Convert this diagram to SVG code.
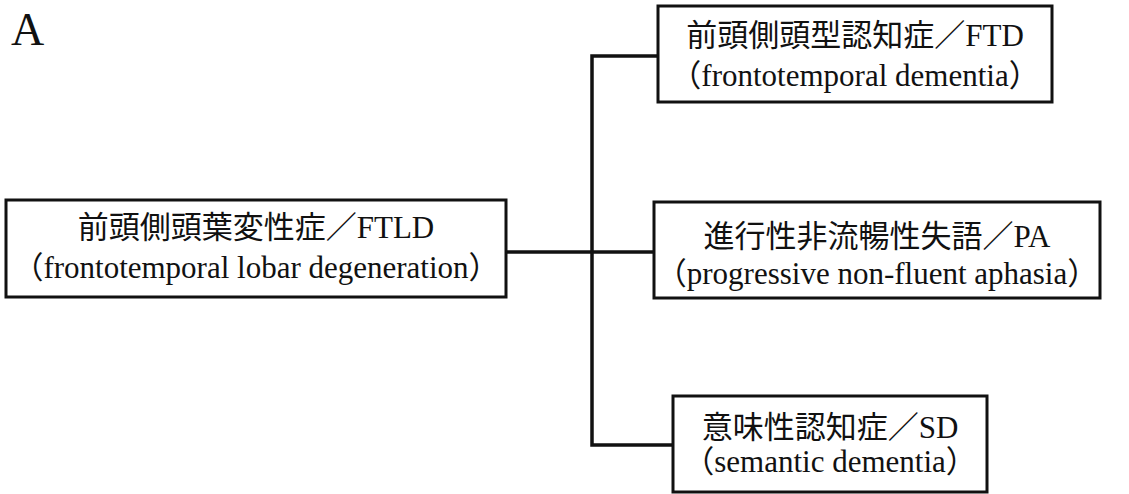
<svg xmlns="http://www.w3.org/2000/svg" width="1129" height="494" viewBox="0 0 1129 494">
<style>
.box{fill:#fff;stroke:#111;stroke-width:3}
.con{fill:none;stroke:#111;stroke-width:3.5}
text{fill:#111;text-anchor:middle;font-size:31px}
.j{font-family:"Noto Sans CJK JP",sans-serif}
.s{font-family:"Liberation Serif",serif}
.lab{font-family:"Liberation Serif",serif;font-size:46px;text-anchor:start}
</style>
<rect width="1129" height="494" fill="#fff"/>
<text class="lab" x="11" y="45">A</text>
<g id="connectors">
<path class="con" d="M506,252 H654"/>
<path class="con" d="M658,56 H592 V445 H673"/>
</g>
<g id="ftld">
<rect class="box" x="6" y="200" width="500" height="97"/>
<text x="256" y="238"><tspan class="j">前頭側頭葉変性症／</tspan><tspan class="s">FTLD</tspan></text>
<text x="256" y="278"><tspan class="j">（</tspan><tspan class="s">frontotemporal lobar degeneration</tspan><tspan class="j">）</tspan></text>
</g>
<g id="ftd">
<rect class="box" x="658" y="6" width="394" height="96"/>
<text x="855" y="46"><tspan class="j">前頭側頭型認知症／</tspan><tspan class="s">FTD</tspan></text>
<text x="855" y="86"><tspan class="j">（</tspan><tspan class="s">frontotemporal dementia</tspan><tspan class="j">）</tspan></text>
</g>
<g id="pa">
<rect class="box" x="654" y="202" width="446" height="96"/>
<text x="877" y="247"><tspan class="j">進行性非流暢性失語／</tspan><tspan class="s">PA</tspan></text>
<text x="877" y="284"><tspan class="j">（</tspan><tspan class="s">progressive non-fluent aphasia</tspan><tspan class="j">）</tspan></text>
</g>
<g id="sd">
<rect class="box" x="673" y="396" width="314" height="96"/>
<text x="830" y="438"><tspan class="j">意味性認知症／</tspan><tspan class="s">SD</tspan></text>
<text x="830" y="472"><tspan class="j">（</tspan><tspan class="s">semantic dementia</tspan><tspan class="j">）</tspan></text>
</g>
</svg>
